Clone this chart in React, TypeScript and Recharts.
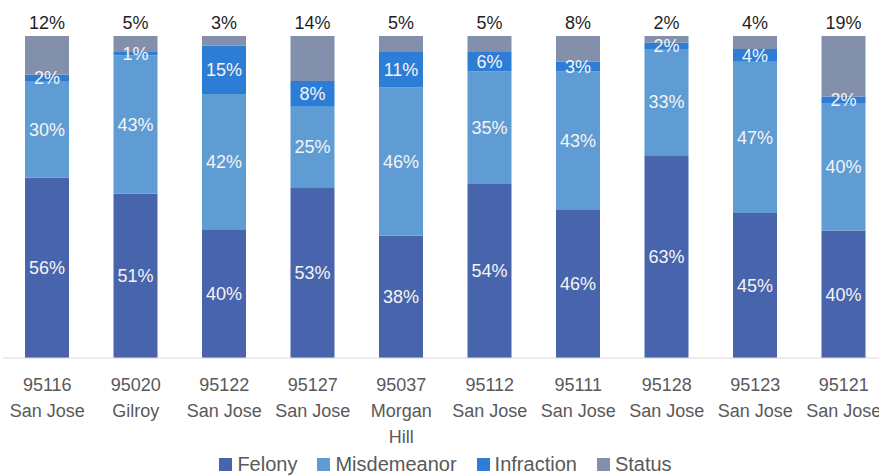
import React from 'react';
import { BarChart, Bar, XAxis, YAxis, LabelList, Legend } from 'recharts';

const zipCodes = ['95116', '95020', '95122', '95127', '95037', '95112', '95111', '95128', '95123', '95121'];
const cities = ['San Jose', 'Gilroy', 'San Jose', 'San Jose', 'Morgan Hill', 'San Jose', 'San Jose', 'San Jose', 'San Jose', 'San Jose'];
const felony = [56, 51, 40, 53, 38, 54, 46, 63, 45, 40];
const misdemeanor = [30, 43, 42, 25, 46, 35, 43, 33, 47, 40];
const infraction = [2, 1, 15, 8, 11, 6, 3, 2, 4, 2];
const status = [12, 5, 3, 14, 5, 5, 8, 2, 4, 19];

const series = [
  { key: 'felony', name: 'Felony', color: '#4864AC' },
  { key: 'misdemeanor', name: 'Misdemeanor', color: '#5F9CD3' },
  { key: 'infraction', name: 'Infraction', color: '#2D7DD6' },
  { key: 'status', name: 'Status', color: '#8390AC' },
];

const data = zipCodes.map((zip, i) => ({
  zip,
  city: cities[i],
  felony: felony[i],
  misdemeanor: misdemeanor[i],
  infraction: infraction[i],
  status: status[i],
}));

const FONT = '"Liberation Sans", Arial, sans-serif';

// 郵便番号 + 市名（長い市名は折り返す）
const CityTick = (props: any) => {
  const { x, y, payload, index } = props;
  const city = cities[index] ?? '';
  const cityLines = city.length > 9 ? city.split(' ') : [city];
  const lines = [payload.value, ...cityLines];
  return (
    <g transform={`translate(${x},${y})`}>
      {lines.map((line: string, i: number) => (
        <text
          key={i}
          x={0}
          y={i * 26}
          dy={25}
          textAnchor="middle"
          fill="#595959"
          fontSize={18}
          fontFamily={FONT}
        >
          {line}
        </text>
      ))}
    </g>
  );
};

const LegendContent = () => (
  <div
    style={{
      height: 30,
      paddingTop: 6,
      boxSizing: 'border-box',
      display: 'flex',
      justifyContent: 'center',
      alignItems: 'center',
      gap: 20,
      fontFamily: FONT,
      fontSize: 20,
      color: '#595959',
    }}
  >
    {series.map((s) => (
      <div key={s.key} style={{ display: 'flex', alignItems: 'center', gap: 5 }}>
        <span style={{ width: 13, height: 13, background: s.color, display: 'inline-block' }} />
        <span>{s.name}</span>
      </div>
    ))}
  </div>
);

const pct = (v: any) => `${v}%`;

export default function App() {
  return (
    <div
      style={{
        position: 'fixed',
        top: 0,
        left: 0,
        width: 879,
        height: 476,
        overflow: 'hidden',
        background: '#fff',
      }}
    >
      <BarChart
        width={891}
        height={476}
        data={data}
        stackOffset="expand"
        margin={{ top: 36, right: 3, left: 3, bottom: 0 }}
      >
        <XAxis
          dataKey="zip"
          axisLine={{ stroke: '#D9D9D9' }}
          tickLine={false}
          interval={0}
          height={88}
          tick={<CityTick />}
        />
        <YAxis hide domain={[0, 1]} />
        <Legend verticalAlign="bottom" content={<LegendContent />} />
        {series.map((s) => (
          <Bar
            key={s.key}
            dataKey={s.key}
            name={s.name}
            stackId="a"
            fill={s.color}
            barSize={44}
            isAnimationActive={false}
          >
            <LabelList
              dataKey={s.key}
              position={s.key === 'status' ? 'top' : 'center'}
              offset={7}
              formatter={pct}
              fill={s.key === 'status' ? '#1F1F1F' : '#F4F4F4'}
              fontSize={18}
              fontFamily={FONT}
            />
          </Bar>
        ))}
      </BarChart>
    </div>
  );
}
